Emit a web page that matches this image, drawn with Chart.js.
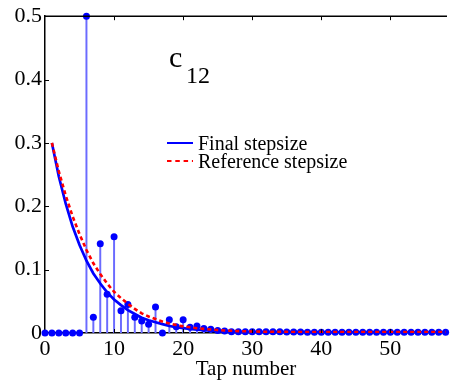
<!DOCTYPE html>
<html>
<head>
<meta charset="utf-8">
<script src="https://cdn.jsdelivr.net/npm/chart.js@4"></script>
<style>
  body { margin: 0; background: #fff; }
</style>
</head>
<body>
<canvas id="tapChart" width="451" height="383"></canvas>
<script>
// stem values, one per tap 0..58
const stemValues = [
  0, 0, 0, 0, 0, 0, 0.5, 0.025, 0.141, 0.061,
  0.152, 0.035, 0.045, 0.025, 0.019, 0.014, 0.041, 0.0, 0.021, 0.010,
  0.021, 0.009, 0.011, 0.007, 0.006, 0.004, 0.003, 0.002, 0.002, 0.002,
  0.002, 0.002, 0.002, 0.002, 0.002, 0.0015, 0.0015, 0.0015, 0.0012, 0.0012,
  0.0012, 0.0012, 0.0012, 0.0012, 0.0012, 0.0012, 0.0012, 0.0012, 0.0012, 0.0012,
  0.0012, 0.0012, 0.0012, 0.0012, 0.0012, 0.0012, 0.0012, 0.0012, 0.0012
];
const taps = stemValues.map((v, i) => i);

// stepsize curves, taps 1..58
const finalStep = [
  0.300, 0.247, 0.204, 0.168, 0.139, 0.114, 0.094, 0.078, 0.064, 0.053,
  0.044, 0.036, 0.030, 0.024, 0.020, 0.017, 0.014, 0.011, 0.0093, 0.0077,
  0.0063, 0.0052, 0.0043, 0.0036, 0.0030, 0.0025, 0.0021, 0.0018, 0.0016, 0.0015,
  0.0014, 0.0014, 0.0014, 0.0013, 0.0013, 0.0013, 0.0013, 0.0013, 0.0012, 0.0012,
  0.0012, 0.0012, 0.0012, 0.0012, 0.0012, 0.0012, 0.0012, 0.0012, 0.0012, 0.0012,
  0.0012, 0.0012, 0.0012, 0.0012, 0.0012, 0.0012, 0.0012, 0.0012
];
const referenceStep = [
  0.300, 0.255, 0.217, 0.184, 0.156, 0.131, 0.110, 0.093, 0.078, 0.065,
  0.055, 0.046, 0.038, 0.031, 0.026, 0.022, 0.018, 0.015, 0.0125, 0.0105,
  0.009, 0.0075, 0.0065, 0.0055, 0.0047, 0.004, 0.0035, 0.003, 0.0027, 0.0024,
  0.0022, 0.002, 0.0019, 0.0018, 0.0017, 0.0016, 0.0016, 0.0015, 0.0015, 0.0015,
  0.0015, 0.0015, 0.0015, 0.0015, 0.0015, 0.0015, 0.0015, 0.0015, 0.0015, 0.0015,
  0.0015, 0.0015, 0.0015, 0.0015, 0.0015, 0.0015, 0.0015, 0.0015
];
const curveTaps = finalStep.map((v, i) => i + 1);

const xTicks = [0, 10, 20, 30, 40, 50];
const yTicks = [0, 0.1, 0.2, 0.3, 0.4, 0.5];
const seriesLabels = ["Final stepsize", "Reference stepsize"];

const serif = "'Liberation Serif', 'Times New Roman', serif";

const stems = taps.map((t, i) => ({ x: t, y: stemValues[i] }));
const finalPts = curveTaps.map((t, i) => ({ x: t, y: finalStep[i] }));
const refPts = curveTaps.map((t, i) => ({ x: t, y: referenceStep[i] }));

const extras = {
  id: "extras",
  afterDraw(chart) {
    const ctx = chart.ctx;
    const area = chart.chartArea;
    const xs = chart.scales.x, ys = chart.scales.y;
    ctx.save();
    // top box line
    ctx.strokeStyle = "#000";
    ctx.lineWidth = 1.5;
    ctx.beginPath();
    ctx.moveTo(area.left, area.top);
    ctx.lineTo(area.right, area.top);
    ctx.stroke();
    // inward ticks
    ctx.lineWidth = 1;
    xTicks.forEach(t => {
      if (t === 0) return;
      const px = Math.round(xs.getPixelForValue(t)) + 0.5;
      ctx.beginPath();
      ctx.moveTo(px, area.top);
      ctx.lineTo(px, area.top + 4);
      ctx.moveTo(px, area.bottom);
      ctx.lineTo(px, area.bottom - 4);
      ctx.stroke();
    });
    yTicks.forEach(t => {
      if (t === 0) return;
      const py = Math.round(ys.getPixelForValue(t)) + 0.5;
      ctx.beginPath();
      ctx.moveTo(area.left, py);
      ctx.lineTo(area.left + 4, py);
      ctx.stroke();
    });
    // c_12 label
    ctx.fillStyle = "#000";
    ctx.textBaseline = "alphabetic";
    ctx.textAlign = "left";
    ctx.font = "30px " + serif;
    ctx.fillText("c", 169, 67);
    ctx.font = "24px " + serif;
    ctx.fillText("12", 186, 83);
    // legend
    ctx.font = "20px " + serif;
    ctx.lineWidth = 2;
    ctx.strokeStyle = "#0000ff";
    ctx.beginPath();
    ctx.moveTo(167, 143);
    ctx.lineTo(193, 143);
    ctx.stroke();
    ctx.fillText(seriesLabels[0], 198, 150);
    ctx.strokeStyle = "#ff0000";
    ctx.setLineDash([4.5, 3.8]);
    ctx.beginPath();
    ctx.moveTo(167, 161);
    ctx.lineTo(193, 161);
    ctx.stroke();
    ctx.setLineDash([]);
    ctx.fillText(seriesLabels[1], 198, 168);
    ctx.restore();
  }
};

new Chart("tapChart", {
  type: "scatter",
  data: {
    datasets: [
      {
        type: "line",
        label: seriesLabels[1],
        data: refPts,
        borderColor: "#ff0000",
        borderWidth: 2.6,
        borderDash: [4, 3],
        pointRadius: 0,
        fill: false,
        tension: 0
      },
      {
        type: "line",
        label: seriesLabels[0],
        data: finalPts,
        borderColor: "#0000ff",
        borderWidth: 2.7,
        pointRadius: 0,
        fill: false,
        tension: 0
      },
      {
        type: "scatter",
        data: stems,
        pointRadius: 3.5,
        pointBackgroundColor: "#0000ff",
        pointBorderWidth: 0,
        showLine: false,
        clip: false
      },
      {
        type: "bar",
        data: stems,
        backgroundColor: "#6b6bff",
        barThickness: 1.3,
        borderWidth: 0
      }
    ]
  },
  options: {
    responsive: false,
    animation: false,
    layout: { padding: { top: 14, right: 0, left: 0, bottom: 0 } },
    plugins: {
      legend: { display: false },
      tooltip: { enabled: false },
      title: { display: false }
    },
    scales: {
      x: {
        type: "linear",
        offset: false,
        min: 0,
        max: 58.2,
        grid: { display: false, drawTicks: false },
        border: { display: true, color: "#000", width: 1.5 },
        afterBuildTicks: s => { s.ticks = xTicks.map(v => ({ value: v })); },
        afterFit: s => { s.height = 50; },
        ticks: {
          color: "#000",
          padding: 3,
          maxRotation: 0,
          font: { family: serif, size: 22 }
        },
        title: {
          display: true,
          text: "Tap number",
          color: "#000",
          padding: { top: 0, bottom: 1 },
          font: { family: serif, size: 21 }
        }
      },
      y: {
        min: 0,
        max: 0.5,
        grid: { display: false, drawTicks: false },
        border: { display: true, color: "#000", width: 1.5 },
        afterBuildTicks: s => { s.ticks = yTicks.map(v => ({ value: v })); },
        afterFit: s => { s.width = 45; },
        ticks: {
          color: "#000",
          padding: 3,
          font: { family: serif, size: 22 },
          callback: v => v === 0 ? "0" : v.toFixed(1)
        }
      }
    }
  },
  plugins: [extras]
});
</script>
</body>
</html>
